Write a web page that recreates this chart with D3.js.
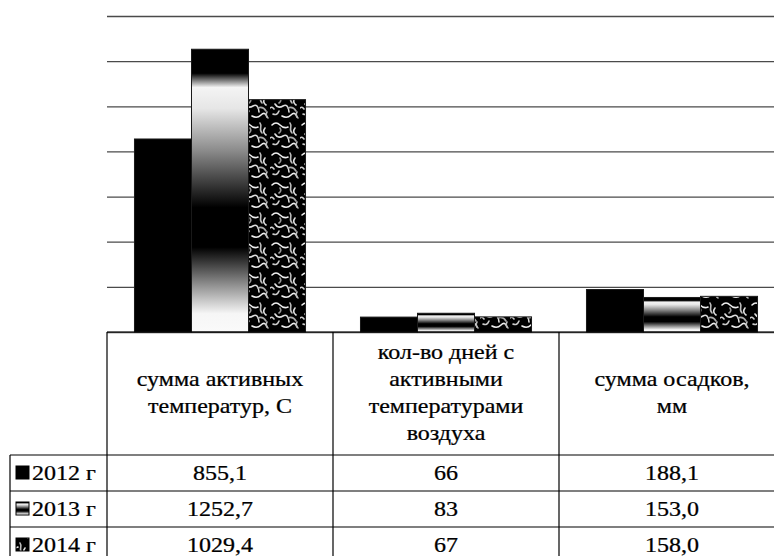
<!DOCTYPE html>
<html>
<head>
<meta charset="utf-8">
<script src="https://cdn.jsdelivr.net/npm/d3@7"></script>
<style>
  html, body { margin: 0; padding: 0; background: #fff; overflow: hidden; }
  svg { display: block; }
</style>
</head>
<body>
<script>
// Climate indicators by year
const categories = [
  ["сумма активных", "температур, С"],
  ["кол-во дней с", "активными", "температурами", "воздуха"],
  ["сумма осадков,", "мм"]
];
const years = ["2012 г", "2013 г", "2014 г"];
const values2012 = [855.1, 66, 188.1];
const values2013 = [1252.7, 83, 153.0];
const values2014 = [1029.4, 67, 158.0];
const valueFormats = [".1f", "d", ".1f"];
const yTicks = [0, 200, 400, 600, 800, 1000, 1200, 1400];

const series = [values2012, values2013, values2014];

const W = 774, H = 556;
const plotLeft = 107, plotRight = 785, plotTop = 16, plotBottom = 332;
const headerBottom = 455, rowH = 36, keyLeft = 10;
const fontFamily = '"Liberation Serif"';
const fontSize = 20, stretch = 1.2, lineH = 27;

const svg = d3.select("body").append("svg").attr("width", W).attr("height", H);
const defs = svg.append("defs");

// metallic-looking vertical gradient for the 2013 series
const grad = defs.append("linearGradient").attr("id", "metal")
  .attr("x1", 0).attr("y1", 0).attr("x2", 0).attr("y2", 1);
[[0, "#000"], [0.085, "#000"], [0.135, "#f4f4f4"], [0.21, "#e6e6e6"], [0.36, "#8a8a8a"],
 [0.56, "#000"], [0.70, "#000"], [0.83, "#8c8c8c"], [0.935, "#f6f6f6"], [1, "#fafafa"]]
  .forEach(([o, c]) => grad.append("stop").attr("offset", o).attr("stop-color", c));

// speckled tile for the 2014 series: light squiggles on black
const speck = defs.append("pattern").attr("id", "speckle")
  .attr("patternUnits", "userSpaceOnUse").attr("width", 30).attr("height", 30);
speck.append("rect").attr("width", 30).attr("height", 30).attr("fill", "#000");
[
  ["M2,5 q4,-4 8,0 t8,2", "#eee"], ["M20,3 c3,4 -2,6 2,10", "#bbb"],
  ["M5,14 q3,5 8,2 t6,6", "#ddd"], ["M18,18 q5,-2 8,3", "#aaa"],
  ["M3,24 q4,2 6,-3", "#ccc"], ["M12,26 q5,3 9,-1 t6,2", "#eee"],
  ["M25,8 q-3,4 1,7", "#ddd"], ["M10,8 q2,3 -1,5", "#999"],
  ["M27,22 q-2,3 1,6", "#bbb"], ["M0,18 q2,-2 4,1", "#ccc"]
].forEach(([d, c]) => speck.append("path").attr("d", d).attr("fill", "none")
  .attr("stroke", c).attr("stroke-width", 1.6).attr("stroke-linecap", "round"));

const fills = [
  sel => sel.attr("fill", "#000"),
  sel => sel.attr("fill", "url(#metal)"),
  sel => sel.attr("fill", "url(#speckle)")
];

const x = d3.scaleBand().domain(d3.range(categories.length)).range([plotLeft, plotRight]).padding(0);
const xs = d3.scaleBand().domain(d3.range(series.length)).range([0, x.bandwidth()])
  .paddingInner(0).paddingOuter(0.482);
const y = d3.scaleLinear().domain([0, 1400]).range([plotBottom, plotTop]);

// gridlines
const grid = svg.append("g").attr("transform", `translate(${plotLeft},0)`)
  .call(d3.axisLeft(y).tickValues(yTicks).tickSize(-(plotRight - plotLeft)).tickFormat(""));
grid.select(".domain").remove();
grid.selectAll(".tick line").attr("stroke", "#4a4a4a").attr("stroke-width", 1.3);

// bars
series.forEach((vals, si) => {
  const g = svg.append("g");
  const rects = g.selectAll("rect.fill").data(vals).join("rect").attr("class", "fill")
    .attr("x", (d, ci) => x(ci) + xs(si))
    .attr("y", d => y(d))
    .attr("width", xs.bandwidth())
    .attr("height", d => y(0) - y(d));
  fills[si](rects);
  rects.attr("stroke", "#1a1a1a").attr("stroke-width", 1);
});

// data table grid
const tbl = svg.append("g").attr("stroke", "#000").attr("stroke-width", 1.2);
tbl.append("line").attr("x1", plotLeft).attr("x2", plotRight).attr("y1", plotBottom).attr("y2", plotBottom);
d3.range(categories.length + 1).forEach(i => {
  const xx = i < categories.length ? x(i) : plotRight;
  tbl.append("line").attr("x1", xx).attr("x2", xx).attr("y1", plotBottom).attr("y2", H + 10);
});
tbl.append("line").attr("x1", keyLeft).attr("x2", keyLeft).attr("y1", headerBottom).attr("y2", H + 10);
d3.range(years.length + 1).forEach(r => {
  const yy = headerBottom + r * rowH;
  tbl.append("line").attr("x1", keyLeft).attr("x2", plotRight).attr("y1", yy).attr("y2", yy);
});

function cellText(tx, ty, str, anchor) {
  svg.append("text")
    .attr("transform", `translate(${tx},${ty}) scale(${stretch},1)`)
    .attr("text-anchor", anchor)
    .style("font-family", fontFamily)
    .style("font-size", fontSize + "px")
    .attr("fill", "#000")
    .attr("stroke", "#000").attr("stroke-width", 0.25)
    .text(str);
}

// header labels
categories.forEach((lines, ci) => {
  const cx = x(ci) + x.bandwidth() / 2;
  const cy = (plotBottom + headerBottom) / 2;
  lines.forEach((ln, li) => {
    cellText(cx, cy + (li - (lines.length - 1) / 2) * lineH + 6, ln, "middle");
  });
});

// rows: legend keys and values
series.forEach((vals, si) => {
  const cy = headerBottom + si * rowH + rowH / 2;
  const key = svg.append("rect").attr("x", 16).attr("y", cy - 7).attr("width", 13).attr("height", 13);
  fills[si](key);
  key.attr("stroke", "#000").attr("stroke-width", 1);
  cellText(32, cy + 7, years[si], "start");
  vals.forEach((v, ci) => {
    const label = d3.format(valueFormats[ci])(v).replace(".", ",");
    cellText(x(ci) + x.bandwidth() / 2, cy + 7, label, "middle");
  });
});
</script>
</body>
</html>
